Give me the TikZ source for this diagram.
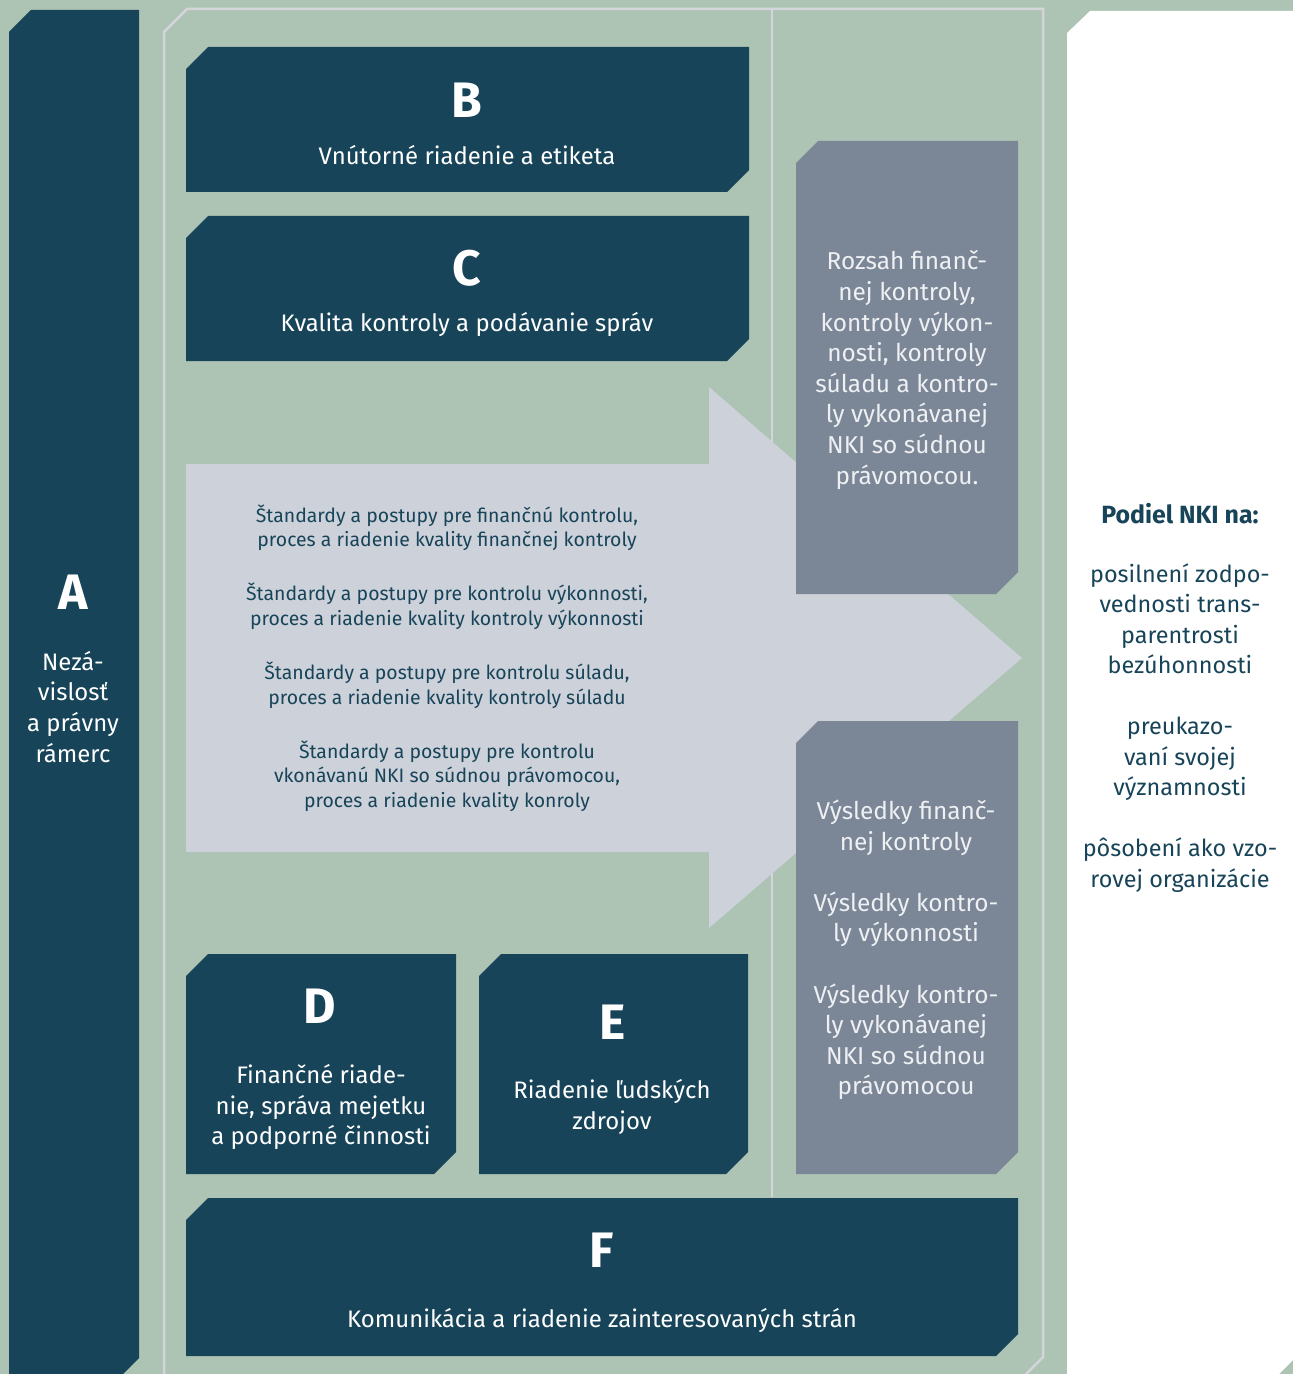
\documentclass[tikz,border=0pt]{standalone}
\usepackage{fontspec}
\setmainfont{Fira Sans}
\definecolor{sage}{HTML}{ADC3B3}
\definecolor{darkteal}{HTML}{174458}
\definecolor{greyblue}{HTML}{7B8797}
\definecolor{arrowgrey}{HTML}{CDD1DA}
\definecolor{frameline}{HTML}{D3D5DB}
\definecolor{paletext}{HTML}{EEF0F3}
\newcommand\chbox[5]{\fill[#5] (#1,{#2+22}) -- ({#1+22},#2) -- (#3,#2) -- (#3,{#4-22}) -- ({#3-22},#4) -- (#1,#4) -- cycle;}
\begin{document}
\begin{tikzpicture}[x=1bp,y=-1bp,
  lbl/.style={text=white, font=\fontsize{24}{31}\selectfont, align=center, inner sep=0pt},
  greylbl/.style={text=paletext, font=\fontsize{24.5}{30.7}\selectfont, align=center, inner sep=0pt},
  biglbl/.style={text=white, font=\fontsize{50}{50}\selectfont\bfseries, inner sep=0pt},
  arrlbl/.style={text=darkteal, font=\fontsize{19.5}{24.5}\selectfont, align=center, inner sep=0pt},
  sidelbl/.style={text=darkteal, font=\fontsize{23.5}{30.6}\selectfont, align=center, inner sep=0pt},
  framestyle/.style={draw=frameline, line width=2.5bp}
]
\useasboundingbox (0,0) rectangle (1293,1374);
\fill[sage] (0,0) rectangle (1293,1374);
\clip (0,0) rectangle (1293,1374);
% A column
\chbox{9}{10}{139}{1380}{darkteal}
% frame
\draw[framestyle] (164,32) -- (187,9) -- (1043,9) -- (1043,1357) -- (1018,1382) -- (164,1382) -- cycle;
\coordinate (divtop) at (772,9);
\coordinate (divbot) at (772,1197);
\draw[framestyle] (divtop) -- (divbot);
% white panel
\fill[white] (1067,33) -- (1090,11) -- (1300,11) -- (1300,1353) -- (1279,1374) -- (1067,1374) -- cycle;
% arrow
\fill[arrowgrey] (186,464) -- (709,464) -- (709,387) -- (1022,658) -- (709,928) -- (709,852) -- (186,852) -- cycle;
% boxes
\chbox{186}{47}{749}{192}{darkteal}
\chbox{186}{216}{749}{361}{darkteal}
\chbox{796}{141}{1018}{594}{greyblue}
\chbox{796}{721}{1018}{1174}{greyblue}
\chbox{186}{954}{456}{1174}{darkteal}
\chbox{479}{954}{748}{1174}{darkteal}
\chbox{186}{1198}{1018}{1356}{darkteal}
% texts
\node[biglbl] (Aletter) at (73,592) {A};
\node[lbl] (Atext) at (73,707) {Nezá-\\vislosť\\a právny\\rámerc};
\node[biglbl] (Bletter) at (467,100) {B};
\node[lbl] (Btext) at (467,155) {Vnútorné riadenie a etiketa};
\node[biglbl] (Cletter) at (467,268) {C};
\node[lbl] (Ctext) at (467,324) {Kvalita kontroly a podávanie správ};
\node[greylbl] (scope) at (907,370) {Rozsah finanč-\\nej kontroly,\\kontroly výkon-\\nosti, kontroly\\súladu a kontro-\\ly vykonávanej\\NKI so súdnou\\právomocou.};
\node[greylbl] (results) at (906,950) {Výsledky finanč-\\nej kontroly\\[30.7bp]Výsledky kontro-\\ly výkonnosti\\[30.7bp]Výsledky kontro-\\ly vykonávanej\\NKI so súdnou\\právomocou};
\node[arrlbl] (stds) at (447,658) {Štandardy a postupy pre finančnú kontrolu,\\proces a riadenie kvality finančnej kontroly\\[30bp]Štandardy a postupy pre kontrolu výkonnosti,\\proces a riadenie kvality kontroly výkonnosti\\[30bp]Štandardy a postupy pre kontrolu súladu,\\proces a riadenie kvality kontroly súladu\\[30bp]Štandardy a postupy pre kontrolu\\vkonávanú NKI so súdnou právomocou,\\proces a riadenie kvality konroly};
\node[biglbl] (Dletter) at (320,1006) {D};
\node[lbl] (Dtext) at (321,1107) {Finančné riade-\\nie, správa mejetku\\a podporné činnosti};
\node[biglbl] (Eletter) at (613,1022) {E};
\node[lbl] (Etext) at (612,1107) {Riadenie ľudských\\zdrojov};
\node[biglbl] (Fletter) at (602,1250) {F};
\node[lbl] (Ftext) at (602,1320) {Komunikácia a riadenie zainteresovaných strán};
\node[sidelbl, font=\fontsize{25}{30.6}\selectfont\bfseries] (podiel) at (1180,514) {Podiel NKI na:};
\node[sidelbl] (contrib) at (1180,728) {posilnení zodpo-\\vednosti trans-\\parentrosti\\bezúhonnosti\\[30.6bp]preukazo-\\vaní svojej\\významnosti\\[30.6bp]pôsobení ako vzo-\\rovej organizácie};
\end{tikzpicture}
\end{document}
